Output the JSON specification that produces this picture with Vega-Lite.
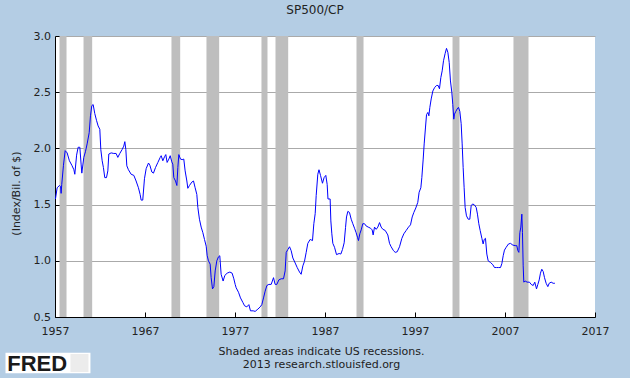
{
  "$schema": "https://vega.github.io/schema/vega-lite/v6.json",
  "width": 540,
  "height": 281,
  "autosize": {"type": "none"},
  "padding": {"left": 55, "top": 36, "right": 35, "bottom": 61},
  "title": {"text": "SP500/CP", "fontSize": 12, "fontWeight": "normal", "font": "DejaVu Sans", "color": "#222222", "anchor": "middle", "offset": 13, "dx": -10},
  "datasets": {
    "recessions": [
      {"start": 1957.5, "end": 1958.28}, {"start": 1960.17, "end": 1961.13}, {"start": 1969.94, "end": 1970.91},
      {"start": 1973.83, "end": 1975.24}, {"start": 1979.94, "end": 1980.61}, {"start": 1981.5, "end": 1982.91},
      {"start": 1990.5, "end": 1991.28}, {"start": 2001.17, "end": 2001.94}, {"start": 2007.94, "end": 2009.61}
    ],
    "series": [
      {"year":1957.05,"value":1.55},{"year":1957.24,"value":1.65},{"year":1957.5,"value":1.67},{"year":1957.62,"value":1.66},{"year":1957.68,"value":1.6},{"year":1957.75,"value":1.68},{"year":1957.94,"value":1.85},{"year":1958.13,"value":1.98},{"year":1958.35,"value":1.96},{"year":1958.6,"value":1.89},{"year":1958.87,"value":1.85},{"year":1959.1,"value":1.81},{"year":1959.2,"value":1.77},{"year":1959.4,"value":1.94},{"year":1959.57,"value":2.01},{"year":1959.76,"value":2.01},{"year":1959.9,"value":1.86},{"year":1959.98,"value":1.78},{"year":1960.2,"value":1.92},{"year":1960.38,"value":1.97},{"year":1960.57,"value":2.04},{"year":1960.8,"value":2.14},{"year":1960.94,"value":2.29},{"year":1961.09,"value":2.38},{"year":1961.24,"value":2.39},{"year":1961.42,"value":2.31},{"year":1961.61,"value":2.25},{"year":1961.79,"value":2.2},{"year":1961.98,"value":2.17},{"year":1962.09,"value":1.99},{"year":1962.24,"value":1.89},{"year":1962.38,"value":1.83},{"year":1962.53,"value":1.74},{"year":1962.72,"value":1.74},{"year":1962.87,"value":1.8},{"year":1962.98,"value":1.95},{"year":1963.24,"value":1.96},{"year":1963.53,"value":1.955},{"year":1963.79,"value":1.955},{"year":1963.98,"value":1.92},{"year":1964.2,"value":1.955},{"year":1964.46,"value":1.99},{"year":1964.64,"value":2.02},{"year":1964.76,"value":2.06},{"year":1964.87,"value":1.99},{"year":1964.98,"value":1.845},{"year":1965.16,"value":1.81},{"year":1965.46,"value":1.77},{"year":1965.76,"value":1.76},{"year":1966.01,"value":1.71},{"year":1966.27,"value":1.65},{"year":1966.46,"value":1.59},{"year":1966.57,"value":1.54},{"year":1966.75,"value":1.54},{"year":1966.94,"value":1.73},{"year":1967.13,"value":1.82},{"year":1967.39,"value":1.87},{"year":1967.54,"value":1.85},{"year":1967.76,"value":1.79},{"year":1967.94,"value":1.78},{"year":1968.17,"value":1.83},{"year":1968.43,"value":1.875},{"year":1968.69,"value":1.92},{"year":1968.8,"value":1.935},{"year":1968.98,"value":1.89},{"year":1969.17,"value":1.925},{"year":1969.31,"value":1.945},{"year":1969.46,"value":1.875},{"year":1969.65,"value":1.905},{"year":1969.8,"value":1.935},{"year":1969.98,"value":1.88},{"year":1970.09,"value":1.86},{"year":1970.2,"value":1.74},{"year":1970.39,"value":1.71},{"year":1970.54,"value":1.67},{"year":1970.65,"value":1.83},{"year":1970.76,"value":1.945},{"year":1970.94,"value":1.905},{"year":1971.13,"value":1.9},{"year":1971.31,"value":1.905},{"year":1971.46,"value":1.8},{"year":1971.65,"value":1.71},{"year":1971.76,"value":1.645},{"year":1971.94,"value":1.67},{"year":1972.2,"value":1.7},{"year":1972.39,"value":1.71},{"year":1972.57,"value":1.65},{"year":1972.76,"value":1.59},{"year":1972.87,"value":1.475},{"year":1973.05,"value":1.37},{"year":1973.24,"value":1.3},{"year":1973.43,"value":1.25},{"year":1973.61,"value":1.19},{"year":1973.8,"value":1.13},{"year":1973.91,"value":1.045},{"year":1974.05,"value":1.0},{"year":1974.24,"value":0.97},{"year":1974.35,"value":0.85},{"year":1974.5,"value":0.75},{"year":1974.65,"value":0.77},{"year":1974.8,"value":0.91},{"year":1974.98,"value":1.0},{"year":1975.16,"value":1.035},{"year":1975.31,"value":1.045},{"year":1975.46,"value":0.88},{"year":1975.68,"value":0.82},{"year":1975.87,"value":0.87},{"year":1976.13,"value":0.89},{"year":1976.43,"value":0.9},{"year":1976.68,"value":0.89},{"year":1976.87,"value":0.84},{"year":1977.02,"value":0.79},{"year":1977.13,"value":0.76},{"year":1977.39,"value":0.72},{"year":1977.61,"value":0.67},{"year":1977.87,"value":0.63},{"year":1978.06,"value":0.6},{"year":1978.31,"value":0.59},{"year":1978.54,"value":0.61},{"year":1978.72,"value":0.555},{"year":1979.02,"value":0.555},{"year":1979.24,"value":0.55},{"year":1979.54,"value":0.57},{"year":1979.8,"value":0.59},{"year":1979.98,"value":0.61},{"year":1980.17,"value":0.67},{"year":1980.35,"value":0.73},{"year":1980.54,"value":0.78},{"year":1980.76,"value":0.79},{"year":1981.02,"value":0.79},{"year":1981.28,"value":0.85},{"year":1981.46,"value":0.79},{"year":1981.65,"value":0.79},{"year":1981.87,"value":0.83},{"year":1982.13,"value":0.84},{"year":1982.39,"value":0.84},{"year":1982.57,"value":0.91},{"year":1982.69,"value":1.075},{"year":1982.87,"value":1.1},{"year":1983.06,"value":1.125},{"year":1983.24,"value":1.09},{"year":1983.43,"value":1.025},{"year":1983.69,"value":0.98},{"year":1983.91,"value":0.94},{"year":1984.17,"value":0.9},{"year":1984.35,"value":0.88},{"year":1984.54,"value":0.955},{"year":1984.72,"value":0.995},{"year":1984.91,"value":1.075},{"year":1985.09,"value":1.155},{"year":1985.35,"value":1.19},{"year":1985.61,"value":1.18},{"year":1985.76,"value":1.33},{"year":1985.91,"value":1.42},{"year":1986.02,"value":1.58},{"year":1986.2,"value":1.77},{"year":1986.33,"value":1.81},{"year":1986.5,"value":1.76},{"year":1986.72,"value":1.69},{"year":1986.9,"value":1.74},{"year":1987.09,"value":1.76},{"year":1987.24,"value":1.68},{"year":1987.33,"value":1.55},{"year":1987.57,"value":1.55},{"year":1987.65,"value":1.355},{"year":1987.76,"value":1.24},{"year":1987.87,"value":1.155},{"year":1988.06,"value":1.12},{"year":1988.28,"value":1.055},{"year":1988.57,"value":1.065},{"year":1988.76,"value":1.06},{"year":1988.94,"value":1.1},{"year":1989.13,"value":1.16},{"year":1989.28,"value":1.295},{"year":1989.39,"value":1.39},{"year":1989.54,"value":1.44},{"year":1989.72,"value":1.43},{"year":1989.91,"value":1.37},{"year":1990.09,"value":1.33},{"year":1990.28,"value":1.29},{"year":1990.46,"value":1.25},{"year":1990.61,"value":1.21},{"year":1990.72,"value":1.18},{"year":1990.87,"value":1.24},{"year":1991.02,"value":1.275},{"year":1991.2,"value":1.33},{"year":1991.39,"value":1.33},{"year":1991.57,"value":1.31},{"year":1991.8,"value":1.3},{"year":1992.06,"value":1.29},{"year":1992.24,"value":1.275},{"year":1992.35,"value":1.23},{"year":1992.5,"value":1.3},{"year":1992.69,"value":1.28},{"year":1992.87,"value":1.3},{"year":1993.06,"value":1.34},{"year":1993.24,"value":1.3},{"year":1993.43,"value":1.28},{"year":1993.69,"value":1.27},{"year":1993.98,"value":1.23},{"year":1994.17,"value":1.155},{"year":1994.35,"value":1.125},{"year":1994.61,"value":1.09},{"year":1994.8,"value":1.075},{"year":1995.02,"value":1.08},{"year":1995.28,"value":1.125},{"year":1995.54,"value":1.2},{"year":1995.76,"value":1.24},{"year":1996.02,"value":1.27},{"year":1996.28,"value":1.3},{"year":1996.5,"value":1.32},{"year":1996.69,"value":1.39},{"year":1996.87,"value":1.43},{"year":1997.09,"value":1.47},{"year":1997.31,"value":1.52},{"year":1997.46,"value":1.61},{"year":1997.65,"value":1.65},{"year":1997.76,"value":1.74},{"year":1997.91,"value":1.905},{"year":1998.02,"value":2.04},{"year":1998.17,"value":2.19},{"year":1998.28,"value":2.3},{"year":1998.43,"value":2.32},{"year":1998.54,"value":2.29},{"year":1998.65,"value":2.365},{"year":1998.8,"value":2.44},{"year":1998.98,"value":2.51},{"year":1999.17,"value":2.54},{"year":1999.39,"value":2.56},{"year":1999.57,"value":2.56},{"year":1999.72,"value":2.53},{"year":1999.87,"value":2.63},{"year":2000.02,"value":2.69},{"year":2000.17,"value":2.78},{"year":2000.35,"value":2.845},{"year":2000.5,"value":2.89},{"year":2000.65,"value":2.855},{"year":2000.8,"value":2.765},{"year":2000.94,"value":2.6},{"year":2001.09,"value":2.5},{"year":2001.2,"value":2.39},{"year":2001.31,"value":2.26},{"year":2001.39,"value":2.305},{"year":2001.54,"value":2.33},{"year":2001.68,"value":2.35},{"year":2001.83,"value":2.365},{"year":2001.98,"value":2.33},{"year":2002.13,"value":2.22},{"year":2002.24,"value":2.04},{"year":2002.35,"value":1.83},{"year":2002.46,"value":1.65},{"year":2002.57,"value":1.475},{"year":2002.72,"value":1.4},{"year":2002.91,"value":1.37},{"year":2003.09,"value":1.37},{"year":2003.24,"value":1.49},{"year":2003.39,"value":1.505},{"year":2003.57,"value":1.5},{"year":2003.8,"value":1.475},{"year":2003.94,"value":1.415},{"year":2004.09,"value":1.33},{"year":2004.24,"value":1.27},{"year":2004.43,"value":1.2},{"year":2004.57,"value":1.15},{"year":2004.69,"value":1.19},{"year":2004.83,"value":1.2},{"year":2004.98,"value":1.06},{"year":2005.13,"value":1.0},{"year":2005.39,"value":0.985},{"year":2005.65,"value":0.965},{"year":2005.83,"value":0.94},{"year":2006.06,"value":0.94},{"year":2006.28,"value":0.94},{"year":2006.5,"value":0.94},{"year":2006.65,"value":0.975},{"year":2006.8,"value":1.045},{"year":2006.94,"value":1.095},{"year":2007.13,"value":1.12},{"year":2007.39,"value":1.15},{"year":2007.61,"value":1.155},{"year":2007.87,"value":1.14},{"year":2008.13,"value":1.135},{"year":2008.31,"value":1.135},{"year":2008.43,"value":1.09},{"year":2008.54,"value":1.075},{"year":2008.65,"value":1.25},{"year":2008.76,"value":1.3},{"year":2008.87,"value":1.415},{"year":2008.94,"value":1.25},{"year":2009.02,"value":0.955},{"year":2009.09,"value":0.81},{"year":2009.24,"value":0.82},{"year":2009.46,"value":0.81},{"year":2009.72,"value":0.81},{"year":2009.91,"value":0.79},{"year":2010.13,"value":0.78},{"year":2010.31,"value":0.81},{"year":2010.5,"value":0.75},{"year":2010.65,"value":0.79},{"year":2010.8,"value":0.83},{"year":2010.94,"value":0.89},{"year":2011.09,"value":0.925},{"year":2011.24,"value":0.905},{"year":2011.39,"value":0.85},{"year":2011.57,"value":0.8},{"year":2011.76,"value":0.77},{"year":2011.91,"value":0.8},{"year":2012.13,"value":0.81},{"year":2012.35,"value":0.8},{"year":2012.54,"value":0.8}
    ]
  },
  "layer": [
    {
      "data": {"name": "recessions"},
      "mark": {"type": "rect", "color": "#bebebe"},
      "encoding": {
        "x": {"field": "start", "type": "quantitative", "scale": {"domain": [1957, 2017], "nice": false, "zero": false}},
        "x2": {"field": "end"}
      }
    },
    {
      "data": {"name": "series"},
      "mark": {"type": "line", "color": "#0000ff", "strokeWidth": 1},
      "encoding": {
        "x": {
          "field": "year", "type": "quantitative",
          "scale": {"domain": [1957, 2017], "nice": false, "zero": false},
          "axis": {
            "values": [1957, 1967, 1977, 1987, 1997, 2007, 2017], "format": "d", "grid": false,
            "tickSize": -5, "labelPadding": 13, "labelFlush": false, "labelOverlap": false,
            "title": ["Shaded areas indicate US recessions.", "2013 research.stlouisfed.org"],
            "titlePadding": 9, "titleLineHeight": 13.5, "titleX": 266, "titleAlign": "center"
          }
        },
        "y": {
          "field": "value", "type": "quantitative",
          "scale": {"domain": [0.5, 3.0], "nice": false, "zero": false},
          "axis": {
            "values": [0.5, 1.0, 1.5, 2.0, 2.5, 3.0], "format": ".1f", "grid": true,
            "tickSize": -5, "labelPadding": 9.5, "labelFlush": false,
            "title": "(Index/Bil. of $)", "titleX": -38.5, "titleY": 157, "titleAngle": -90,
            "titleBaseline": "middle", "titleAlign": "center"
          }
        }
      }
    },
    {
      "data": {"values": [{}]},
      "mark": {"type": "rect", "color": "white"},
      "encoding": {
        "x": {"datum": 1951.5, "type": "quantitative"},
        "x2": {"datum": 1960.94},
        "y": {"datum": 0.0, "type": "quantitative"},
        "y2": {"datum": 0.182}
      }
    },
    {
      "data": {"values": [{}]},
      "mark": {"type": "rect", "color": "#ececec"},
      "encoding": {
        "x": {"datum": 1958.72, "type": "quantitative"},
        "x2": {"datum": 1960.72},
        "y": {"datum": 0.01, "type": "quantitative"},
        "y2": {"datum": 0.171}
      }
    },
    {
      "data": {"values": [{}]},
      "mark": {"type": "text", "text": "FRED", "font": "Liberation Sans", "fontWeight": "bold", "fontSize": 22, "color": "#1a1a1a", "align": "left", "baseline": "alphabetic"},
      "encoding": {
        "x": {"datum": 1951.69, "type": "quantitative"},
        "y": {"datum": 0.02, "type": "quantitative"}
      }
    }
  ],
  "config": {
    "background": "#b4cde4",
    "view": {"fill": "white", "stroke": null},
    "font": "DejaVu Sans",
    "axis": {
      "labelFont": "DejaVu Sans", "labelFontSize": 11, "labelColor": "#222222",
      "titleFont": "DejaVu Sans", "titleFontSize": 11, "titleFontWeight": "normal", "titleColor": "#222222",
      "domainColor": "#000000", "tickColor": "#000000", "gridColor": "#aaaaaa", "domainWidth": 1, "tickWidth": 1
    }
  }
}
